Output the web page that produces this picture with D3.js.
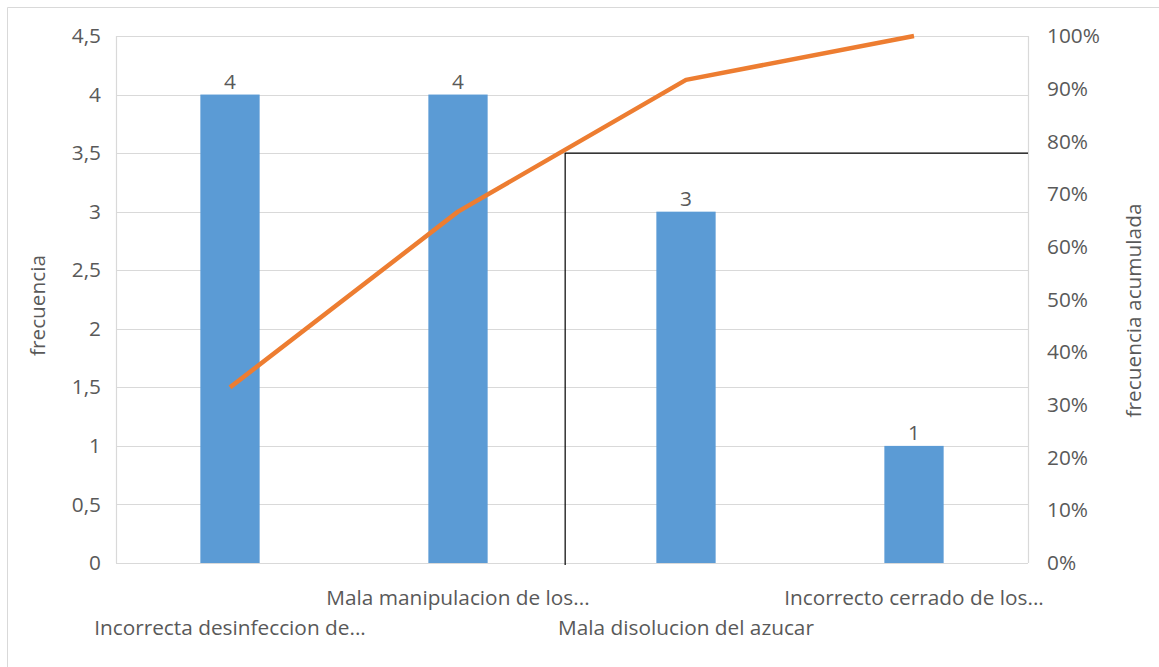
<!DOCTYPE html>
<html>
<head>
<meta charset="utf-8">
<script src="https://cdn.jsdelivr.net/npm/d3@7"></script>
<style>
  html, body { margin: 0; padding: 0; background: #ffffff; }
  svg { display: block; font-family: "Open Sans", sans-serif; }
</style>
</head>
<body>
<svg id="chart" width="1159" height="667"></svg>
<script>
// Pareto chart data
const categories = [
  "Incorrecta desinfeccion de...",
  "Mala manipulacion de los...",
  "Mala disolucion del azucar",
  "Incorrecto cerrado de los..."
];
const frequencies = [4, 4, 3, 1];
const cumulativePct = [33.33, 66.67, 91.67, 100];
const leftTicks = [0, 0.5, 1, 1.5, 2, 2.5, 3, 3.5, 4, 4.5];
const rightTicks = [0, 10, 20, 30, 40, 50, 60, 70, 80, 90, 100];
const leftTitle = "frecuencia";
const rightTitle = "frecuencia acumulada";
// Vital-few boundary (category position and frequency level)
const cutIndex = 1.97;
const cutLevel = 3.5;

const svg = d3.select("#chart");
const W = 1159, H = 667;
const plot = { left: 116, right: 1028, top: 36, bottom: 563 };
const textColor = "#595959";
const gridColor = "#d9d9d9";
const fontSize = 20.8;
const fontFamily = "'Open Sans', sans-serif";

// Chart frame (left and top edges)
svg.append("path")
  .attr("d", `M7.5,${H} V7.5 H${W}`)
  .attr("fill", "none")
  .attr("stroke", gridColor)
  .attr("stroke-width", 1);

const x = d3.scaleBand().domain(categories).range([plot.left, plot.right]).padding(0);
const xIdx = d3.scaleLinear().domain([0, categories.length]).range([plot.left, plot.right]);
const yL = d3.scaleLinear().domain([0, 4.5]).range([plot.bottom, plot.top]);
const yR = d3.scaleLinear().domain([0, 100]).range([plot.bottom, plot.top]);

// Gridlines
svg.append("g")
  .selectAll("line")
  .data(leftTicks)
  .join("line")
  .attr("x1", plot.left).attr("x2", plot.right)
  .attr("y1", d => Math.round(yL(d)) + 0.5)
  .attr("y2", d => Math.round(yL(d)) + 0.5)
  .attr("stroke", gridColor)
  .attr("stroke-width", 1.2);

// Plot area side edges
svg.append("g")
  .selectAll("line")
  .data([plot.left, plot.right])
  .join("line")
  .attr("x1", d => d + 0.5).attr("x2", d => d + 0.5)
  .attr("y1", plot.top).attr("y2", plot.bottom)
  .attr("stroke", gridColor)
  .attr("stroke-width", 1.2);

// Left axis labels
const leftAxis = d3.axisLeft(yL)
  .tickValues(leftTicks)
  .tickSize(0)
  .tickPadding(15)
  .tickFormat(d => String(d).replace(".", ","));
const gL = svg.append("g").attr("transform", `translate(${plot.left},0)`).call(leftAxis);
gL.select(".domain").remove();
gL.selectAll("text")
  .attr("fill", textColor)
  .style("font-size", fontSize + "px")
  .style("font-family", fontFamily);

// Right axis labels
const rightAxis = d3.axisRight(yR)
  .tickValues(rightTicks)
  .tickSize(0)
  .tickPadding(19)
  .tickFormat(d => d + "%");
const gR = svg.append("g").attr("transform", `translate(${plot.right},0)`).call(rightAxis);
gR.select(".domain").remove();
gR.selectAll("text")
  .attr("fill", textColor)
  .style("font-size", fontSize + "px")
  .style("font-family", fontFamily);

// Bars
const barW = x.bandwidth() * 0.26;
svg.append("g")
  .selectAll("rect")
  .data(frequencies)
  .join("rect")
  .attr("x", (d, i) => x(categories[i]) + x.bandwidth() / 2 - barW / 2)
  .attr("y", d => yL(d))
  .attr("width", barW)
  .attr("height", d => yL(0) - yL(d))
  .attr("fill", "#5b9bd5");

// Bar value labels
svg.append("g")
  .selectAll("text")
  .data(frequencies)
  .join("text")
  .attr("x", (d, i) => x(categories[i]) + x.bandwidth() / 2)
  .attr("y", d => yL(d) - 14)
  .attr("text-anchor", "middle")
  .attr("dominant-baseline", "central")
  .attr("fill", textColor)
  .style("font-size", fontSize + "px")
  .text(d => d);

// Vital-few boundary
svg.append("path")
  .attr("d", `M${xIdx(cutIndex)},${plot.bottom + 2} V${yL(cutLevel)} H${plot.right}`)
  .attr("fill", "none")
  .attr("stroke", "#000000")
  .attr("stroke-width", 1.2);

// Cumulative line
const line = d3.line()
  .x((d, i) => x(categories[i]) + x.bandwidth() / 2)
  .y(d => yR(d));
svg.append("path")
  .datum(cumulativePct)
  .attr("d", line)
  .attr("fill", "none")
  .attr("stroke", "#ed7d31")
  .attr("stroke-width", 4.5)
  .attr("stroke-linejoin", "round");

// Category labels in two staggered rows
svg.append("g")
  .selectAll("text")
  .data(categories)
  .join("text")
  .attr("x", d => x(d) + x.bandwidth() / 2)
  .attr("y", (d, i) => i % 2 === 0 ? 627 : 597)
  .attr("text-anchor", "middle")
  .attr("dominant-baseline", "central")
  .attr("fill", textColor)
  .style("font-size", fontSize + "px")
  .text(d => d);

// Axis titles
svg.append("text")
  .attr("transform", `translate(37,${(plot.top + plot.bottom) / 2 + 6}) rotate(-90)`)
  .attr("text-anchor", "middle")
  .attr("dominant-baseline", "central")
  .attr("fill", textColor)
  .style("font-size", fontSize + "px")
  .text(leftTitle);

svg.append("text")
  .attr("transform", `translate(1133,${(plot.top + plot.bottom) / 2 + 11}) rotate(-90)`)
  .attr("text-anchor", "middle")
  .attr("dominant-baseline", "central")
  .attr("fill", textColor)
  .style("font-size", fontSize + "px")
  .text(rightTitle);
</script>
</body>
</html>
